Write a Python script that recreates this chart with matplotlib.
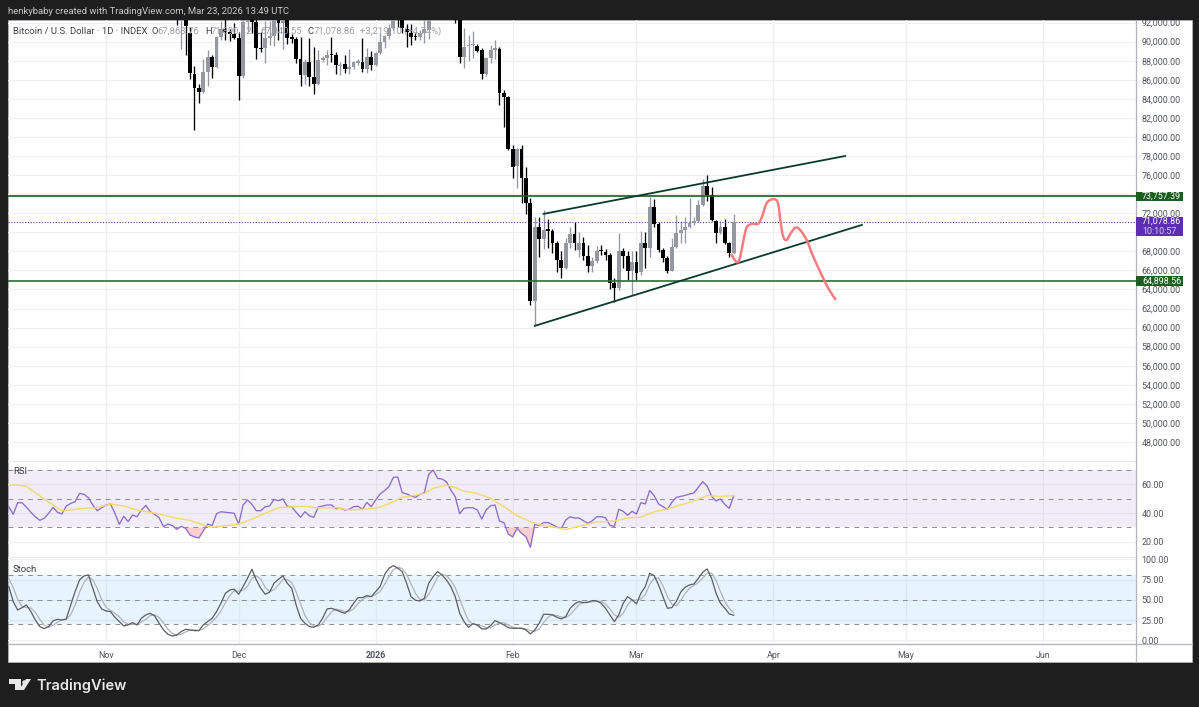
import numpy as np
import pandas as pd
import matplotlib
matplotlib.use("Agg")
import matplotlib.pyplot as plt
import matplotlib.dates as mdates
from matplotlib.patches import Rectangle, Polygon, PathPatch
from matplotlib.path import Path

plt.rcParams['font.family'] = ['Roboto', 'DejaVu Sans']

# daily candles in thousands of USD, Nov 17 2025 to Mar 23 2026
opens = [95.0, 92.3, 92.9, 90.9, 86.61, 85.14, 84.72, 86.82, 88.39, 87.34, 90.49, 91.3, 91.0, 90.8,
         90.4, 86.4, 92.1, 93.5, 92.1, 89.34, 89.3, 90.4, 90.6, 92.4, 92.0, 92.5, 90.4, 90.3, 88.18, 86.5,
         87.87, 86.29, 85.56, 88.1, 88.3, 88.7, 88.6, 87.4, 87.66, 87.13, 87.3, 87.8, 87.87, 87.13, 88.4,
         87.55, 88.81, 89.96, 90.59, 91.43, 93.8, 93.2, 91.33, 90.91, 90.5, 90.49, 90.91, 91.2, 95.0, 96.9,
         95.5, 95.1, 95.0, 93.7, 92.6, 88.39, 89.5, 89.6, 89.55, 89.1, 86.6, 88.29, 89.1, 89.23, 84.61, 84.19,
         78.74, 76.96, 78.74, 75.7, 73.08, 62.81, 70.57, 69.31, 70.35, 70.15, 68.89, 67.11, 66.27, 68.89,
         69.83, 68.16, 68.89, 67.53, 66.48, 67.0, 68.1, 67.95, 67.63, 64.69, 64.17, 68.05, 67.53, 65.95,
         66.9, 65.85, 68.89, 68.37, 72.65, 70.88, 68.16, 67.32, 65.95, 68.47, 69.94, 70.25, 70.57, 71.0,
         71.2, 72.85, 74.85, 73.92, 71.2, 69.94, 70.57, 68.89, 67.86]
highs = [96.0, 93.5, 93.1, 91.5, 87.4, 85.6, 88.18, 89.13, 88.6, 90.6, 92.2, 93.0, 91.3, 92.0,
         91.0, 92.4, 94.1, 94.0, 92.6, 91.0, 92.2, 92.2, 94.5, 94.4, 93.5, 92.9, 90.8, 90.5, 90.49, 88.2,
         90.38, 89.44, 89.1, 88.5, 89.1, 90.5, 88.9, 87.9, 88.6, 89.2, 88.0, 88.2, 90.38, 89.3, 89.0,
         88.95, 90.9, 90.7, 91.8, 94.7, 94.5, 93.7, 91.85, 91.85, 90.9, 91.2, 92.4, 95.5, 97.9, 97.2,
         95.8, 95.5, 95.5, 93.9, 93.3, 91.4, 90.7, 91.1, 89.8, 89.3, 88.4, 89.65, 90.2, 89.4, 84.9, 84.3,
         79.16, 78.85, 79.16, 76.85, 73.6, 71.62, 71.62, 72.34, 71.41, 70.3, 69.1, 68.0, 69.4, 70.57,
         71.09, 70.05, 69.5, 68.7, 67.4, 68.6, 68.7, 68.2, 67.8, 65.2, 69.94, 68.3, 68.0, 68.05,
         68.0, 70.1, 70.0, 73.7, 73.5, 71.1, 68.4, 67.5, 69.4, 71.83, 71.2, 71.6, 73.6, 71.6,
         73.4, 75.6, 76.0, 74.7, 71.3, 71.2, 71.4, 69.0, 71.9]
lows = [91.7, 89.2, 88.6, 86.1, 80.74, 83.57, 84.61, 85.35, 86.19, 87.2, 90.2, 90.2, 90.1, 90.3,
        83.88, 86.2, 91.0, 90.9, 88.18, 88.9, 87.76, 89.6, 89.5, 90.2, 89.2, 89.7, 89.9, 87.76, 85.3, 85.6,
        85.35, 84.51, 85.4, 87.9, 87.6, 87.87, 86.6, 86.5, 86.7, 86.6, 87.1, 87.6, 86.8, 86.7, 87.0,
        87.4, 88.7, 89.3, 90.3, 91.2, 91.5, 90.9, 89.44, 89.65, 90.2, 90.2, 89.9, 90.28, 94.2, 95.0,
        94.5, 94.9, 93.6, 92.0, 87.76, 87.2, 88.0, 88.3, 88.9, 86.1, 86.4, 87.76, 88.2, 83.36, 81.05, 78.6,
        75.7, 74.65, 73.08, 71.93, 62.39, 60.18, 67.42, 68.2, 68.37, 67.84, 65.85, 65.22, 66.1, 68.3,
        68.16, 67.42, 67.11, 65.85, 65.8, 66.8, 67.6, 67.1, 64.0, 62.7, 63.9, 66.2, 65.01, 63.44,
        65.0, 65.5, 66.27, 67.42, 70.6, 67.95, 66.9, 65.74, 65.9, 68.3, 68.9, 68.9, 70.4, 70.8,
        71.1, 72.8, 73.3, 71.2, 68.89, 69.8, 68.8, 67.4, 67.7]
closes = [92.3, 92.9, 91.6, 86.71, 85.14, 84.72, 86.82, 88.39, 87.34, 90.49, 91.3, 91.0, 90.8, 90.4,
          86.4, 92.1, 93.5, 92.1, 89.34, 89.2, 90.4, 90.6, 92.4, 92.0, 92.5, 90.4, 90.3, 88.18, 86.5, 87.87,
          86.29, 85.56, 88.1, 88.3, 88.6, 88.6, 87.55, 87.6, 87.13, 87.3, 87.87, 87.95, 87.13, 88.4, 87.55,
          88.81, 89.96, 90.59, 91.43, 93.8, 93.5, 91.43, 91.0, 90.49, 90.45, 90.91, 91.3, 95.0, 96.9, 95.5,
          95.1, 95.0, 93.7, 92.7, 88.39, 89.44, 89.6, 89.7, 89.02, 86.6, 88.29, 89.13, 89.3, 84.61, 84.19, 78.74,
          76.85, 78.74, 75.7, 73.08, 62.81, 70.57, 69.31, 70.25, 70.15, 68.89, 67.11, 66.27, 68.89, 69.83,
          68.89, 68.89, 67.53, 66.48, 67.0, 68.05, 68.0, 67.63, 64.69, 64.17, 68.05, 67.53, 65.95, 66.9,
          65.74, 68.89, 68.37, 72.65, 70.88, 68.16, 67.32, 65.95, 68.47, 69.94, 70.25, 70.57, 71.0, 71.2,
          72.85, 74.85, 73.92, 71.3, 69.94, 70.57, 68.89, 67.84, 71.08]

# RSI and its moving average, daily from Oct 10 2025
rsi = [44.4, 39.1, 47.2, 47.2, 44.0, 40.5, 37.4, 34.9, 36.3, 39.8, 44.0, 40.5, 39.3, 44.9, 46.7, 47.9, 53.7, 53.0, 50.7, 45.6,
       41.6, 43.7, 45.6, 46.3, 39.8, 32.1, 37.7, 34.0, 38.6, 37.4, 42.1, 45.3, 40.9, 39.1, 36.7, 30.5, 32.3, 31.2, 28.6, 30.7,
       29.3, 24.6, 23.3, 22.6, 27.4, 32.3, 31.2, 39.5, 40.9, 40.5, 40.2, 39.8, 32.1, 45.6, 49.1, 46.0, 41.6, 41.6, 44.4, 44.9,
       49.5, 48.6, 49.8, 44.7, 44.4, 40.5, 37.0, 40.9, 38.1, 37.0, 44.2, 44.9, 45.6, 45.6, 43.0, 43.3, 42.1, 42.6, 44.4, 44.7,
       42.6, 47.4, 44.4, 49.1, 53.3, 55.6, 58.4, 64.9, 65.1,
       54.2, 53.3, 51.9, 50.9, 53.0, 54.2, 67.0, 70.0, 64.2, 63.7, 61.9, 56.0, 51.4, 39.5, 43.3, 43.7, 43.7, 42.1, 35.8, 42.1,
       45.1, 45.6, 34.4, 33.3, 25.3, 23.3, 29.3, 25.8, 23.5, 16.0, 32.1, 31.2, 33.3, 33.3, 31.9, 30.2, 29.3, 35.1, 37.4, 36.5,
       36.5, 34.6, 32.8, 34.6, 37.4, 37.4, 36.7, 31.4, 30.7, 42.6, 41.2, 38.4, 41.2, 39.3, 47.2, 46.3, 55.8, 52.1, 46.3, 44.4,
       42.6, 47.4, 50.9, 51.6, 52.3, 53.3, 54.0, 57.9, 61.9, 58.8, 51.6, 48.4, 49.8, 46.0, 43.3, 51.9]
rsi_ma_days = [0, 2, 4, 6, 8, 10, 12, 14, 17, 20, 23, 26, 29, 32, 35, 38, 41, 44, 46, 48, 52, 55, 58, 61, 64, 67, 70, 74, 77, 81, 84, 87, 88,
               89, 91, 94, 96, 99, 101, 103, 106, 109, 112, 115, 118, 120, 124, 126, 129, 133, 137, 140, 143, 146, 149, 152, 155, 158, 161, 164]
rsi_ma = [59.5, 59.5, 58.6, 54.2, 49.8, 45.6, 41.6, 42.1, 43.3, 43.7, 46.3, 44.9, 42.1, 40.5, 38.6, 36.3, 34.9, 31.6, 30.0, 30.7, 32.3, 35.8, 39.8, 43.7, 44.4, 44.7, 43.5, 43.7, 42.1, 42.8, 44.0, 47.9, 49.5,
          50.9, 51.9, 53.7, 57.2, 59.5, 57.7, 55.3, 53.7, 50.2, 44.4, 38.1, 34.0, 31.9, 29.8, 28.4, 30.7, 33.7, 34.4, 36.5, 37.2, 40.9, 42.8, 45.6, 48.4, 52.1, 51.6, 52.1]

# stochastic %K and %D, same days as rsi
stoch_k = [66.3, 47.7, 37.4, 40.3, 43.6, 35.4, 25.1, 16.9, 14.4, 16.9, 23.9, 25.9, 25.1, 26.3, 43.6, 60.1, 74.5, 79.4, 80.7, 64.2,
           47.7, 38.7, 36.2, 35.4, 28.4, 23.0, 17.7, 18.9, 21.8, 18.9, 27.2, 31.3, 33.3, 30.0, 21.0, 12.8, 7.4, 5.3, 6.6, 10.7,
           13.6, 12.8, 11.9, 11.9, 18.9, 23.0, 27.2, 35.4, 45.7, 58.0, 62.1, 63.0, 56.8, 66.3, 76.5, 87.7, 74.5, 64.2, 56.8, 59.3,
           70.4, 75.3, 79.4, 70.4, 64.2, 43.6, 27.2, 21.0, 16.9, 16.0, 18.9, 27.2, 38.7, 39.5, 37.4, 35.4, 33.3, 37.4, 45.7, 52.7,
           52.7, 55.1, 53.9, 60.1, 66.3, 80.7, 88.9, 92.2, 88.9,
           84.8, 70.4, 53.9, 49.4, 48.6, 51.8, 70.4, 78.6, 84.8, 80.7, 74.5, 66.3, 53.9, 33.3, 23.0, 16.0, 20.6, 18.9, 14.0, 14.0,
           18.1, 24.3, 21.8, 18.9, 15.6, 14.8, 14.8, 14.8, 12.8, 7.8, 12.8, 21.0, 32.1, 32.1, 31.3, 28.4, 26.3, 29.2, 39.5, 44.9,
           47.7, 46.5, 46.9, 49.0, 48.6, 45.7, 39.5, 31.3, 23.0, 31.3, 45.7, 53.9, 49.8, 44.9, 58.0, 66.3, 82.7, 79.8, 68.3, 53.9,
           39.5, 40.3, 47.7, 59.3, 65.4, 68.3, 69.5, 76.5, 84.0, 88.1, 76.5, 58.0, 45.7, 39.5, 32.5, 30.9]
stoch_d = [76.0, 65.0, 50.5, 41.8, 40.4, 39.8, 34.7, 25.8, 18.8, 16.1, 18.4, 22.2, 25.0, 25.8, 31.7, 43.3, 59.4, 71.3, 78.2, 74.8,
           64.2, 50.2, 40.9, 36.8, 33.3, 28.9, 23.0, 19.9, 19.5, 19.9, 22.6, 25.8, 30.6, 31.5, 28.1, 21.3, 13.7, 8.5, 6.4, 7.5,
           10.3, 12.4, 12.8, 12.2, 14.2, 18.0, 23.0, 28.5, 36.1, 46.4, 55.3, 61.0, 60.6, 62.0, 66.5, 76.8, 79.6, 75.5, 65.2, 60.1,
           62.2, 68.3, 75.0, 75.0, 71.3, 59.4, 45.0, 30.6, 21.7, 18.0, 17.3, 20.7, 28.3, 35.1, 38.5, 37.4, 35.4, 35.4, 38.8, 45.3,
           50.4, 53.5, 53.9, 56.4, 60.1, 69.0, 78.6, 87.3, 90.0,
           88.6, 81.4, 69.7, 57.9, 50.6, 49.9, 56.9, 66.9, 77.9, 81.4, 80.0, 73.8, 64.9, 51.2, 36.7, 24.1, 19.9, 18.5, 17.8, 15.6,
           15.4, 18.8, 21.4, 21.7, 18.8, 16.4, 15.1, 14.8, 14.1, 11.8, 11.1, 13.9, 22.0, 28.4, 31.8, 30.6, 28.7, 28.0, 31.7, 37.9,
           44.0, 46.4, 47.0, 47.5, 48.2, 47.8, 44.6, 38.8, 31.3, 28.5, 33.3, 43.6, 49.8, 49.5, 50.9, 56.4, 69.0, 76.3, 76.9, 67.3,
           53.9, 44.6, 42.5, 49.1, 57.5, 64.3, 67.7, 71.4, 76.7, 82.9, 82.9, 74.2, 60.1, 47.7, 39.2, 34.3]

# drawings on the chart: days after the last candle, price in thousands
upper_days = [-43, 25.2]
upper_price = [71.93, 78.0]
lower_days = [-45, 29]
lower_price = [60.18, 70.77]
path_days = [-0.6, 0.7, 1.4, 2.1, 2.9, 4.1, 5.5, 6.4, 7.5, 9.0, 10.0, 10.6, 11.2, 12.0, 12.9, 14.0, 15.0, 16.5, 18.0, 19.9, 21.4, 23.1]
path_price = [67.73, 66.86, 67.31, 68.89, 70.46, 70.88, 70.88, 71.64, 73.08, 73.47, 73.08, 71.11, 69.54, 69.2, 69.9, 70.49, 70.25, 69.2, 67.44, 65.52, 64.13, 62.9]

resistance = 73.75739
support = 64.89856
last_price = 71.07886

price_ticks = list(range(92, 47, -2))
hidden_price_ticks = [74, 70]  # covered by the price tags in the original
rsi_ticks = [60, 40, 20]
stoch_ticks = [100, 75, 50, 25, 0]
month_dates = ['2025-11-01', '2025-12-01', '2026-01-01', '2026-02-01', '2026-03-01', '2026-04-01', '2026-05-01', '2026-06-01']
month_labels = ['Nov', 'Dec', '2026', 'Feb', 'Mar', 'Apr', 'May', 'Jun']

W, H = 1199, 707
DARK = '#1e1e1e'
GRID = '#f0f0f3'
TEXT = '#50535e'
UP = '#9598a1'
DOWN = '#000000'
TICK_SIZE = 6.4
HEAD_SIZE = 6.8


def box(l, t, r, b):
    return [l / W, 1 - b / H, (r - l) / W, (b - t) / H]


def label(x, y, s, **kw):
    kw.setdefault('va', 'center')
    kw.setdefault('ha', 'left')
    kw.setdefault('zorder', 8)
    return fig.text(x / W, 1 - y / H, s, **kw)


def smooth_path(xs, ys):
    # freehand drawing: round the corners with bezier segments through the points
    pts = np.column_stack([xs, ys])
    verts = [pts[0]]
    codes = [Path.MOVETO]
    for i in range(len(pts) - 1):
        before = pts[max(i - 1, 0)]
        after = pts[min(i + 2, len(pts) - 1)]
        verts += [pts[i] + (pts[i + 1] - before) / 6, pts[i + 1] - (after - pts[i]) / 6, pts[i + 1]]
        codes += [Path.CURVE4] * 3
    return Path(verts, codes)


fig = plt.figure(figsize=(W / 100, H / 100), dpi=100, facecolor=DARK)
# white panel behind the axes, dark bar above them so the top tick is cut like the original
fig.add_artist(Rectangle((8 / W, 1 - 662 / H), 1184 / W, 642 / H, transform=fig.transFigure, fc='white', ec='#b8b8b8', lw=0.5, zorder=-1))
fig.add_artist(Rectangle((0, 1 - 20 / H), 1, 20 / H, transform=fig.transFigure, fc=DARK, ec='none', zorder=4))

last_day = pd.Timestamp('2026-03-23')
rsi_dates = mdates.date2num(pd.date_range(end=last_day, periods=len(rsi)))
candle_dates = mdates.date2num(pd.date_range(end=last_day, periods=len(opens)))
last_num = mdates.date2num(last_day)
px_per_day = 4.42
xlim = (last_num + (8 - 733.7) / px_per_day, last_num + (1136 - 733.7) / px_per_day)
month_nums = mdates.date2num(pd.to_datetime(month_dates))

ax = fig.add_axes(box(8, 20, 1136, 461))
ax_rsi = fig.add_axes(box(8, 461, 1136, 557))
ax_st = fig.add_axes(box(8, 557, 1136, 644))

for a in (ax, ax_rsi, ax_st):
    a.set_xlim(xlim)
    a.patch.set_alpha(0)
    for side in ('top', 'left', 'bottom'):
        a.spines[side].set_visible(False)
    a.spines['right'].set_color('#b2b5be')
    a.spines['right'].set_linewidth(0.9)
    a.yaxis.tick_right()
    a.tick_params(axis='y', length=0, pad=4, labelsize=TICK_SIZE, labelcolor=TEXT)
    a.set_xticks(month_nums)
    a.tick_params(axis='x', length=0)
    a.grid(True, color=GRID, lw=0.9)
    a.set_axisbelow(True)
    a.set_xticklabels([])

# price pane
ax.set_ylim(46.0, 92.27)
ax.set_yticks(price_ticks)
ax.set_yticklabels(['' if p in hidden_price_ticks else f'{p * 1000:,.2f}' for p in price_ticks])
ax.spines['bottom'].set_visible(True)
ax.spines['bottom'].set_color('#e8e8ea')

colors = [UP if c >= o else DOWN for o, c in zip(opens, closes)]
ax.vlines(candle_dates, lows, highs, colors=colors, lw=0.95, zorder=2)
body_bottom = np.minimum(opens, closes)
body_height = np.maximum(np.abs(np.array(closes) - np.array(opens)), 0.15)
ax.bar(candle_dates, body_height, bottom=body_bottom, width=0.86, color=colors, lw=0, zorder=3)

ax.axhline(resistance, color='#1b5e20', lw=1.2, zorder=4)
ax.axhline(support, color='#2e6b34', lw=1.2, zorder=4)
ax.axhline(last_price, color='#5e35b1', lw=0.8, ls=(0, (1, 1.5)), zorder=2)
ax.plot(last_num + np.array(upper_days), upper_price, color='#0c3b2e', lw=1.3, zorder=5)
ax.plot(last_num + np.array(lower_days), lower_price, color='#0c3b2e', lw=1.3, zorder=5)
ax.add_patch(PathPatch(smooth_path(last_num + np.array(path_days), path_price), fc='none', ec='#f77c80', lw=1.8, zorder=6))

# RSI pane
ax_rsi.set_ylim(9.3, 76.3)
ax_rsi.set_yticks(rsi_ticks)
ax_rsi.set_yticklabels([f'{v:.2f}' for v in rsi_ticks])
ax_rsi.axhspan(30, 70, color='#7e57c2', alpha=0.1, lw=0)
for v in (70, 50, 30):
    ax_rsi.axhline(v, color='#8a8d96', lw=0.7, ls=(0, (5, 5)))
rsi_arr = np.array(rsi)
ax_rsi.fill_between(rsi_dates, rsi_arr, 30, where=rsi_arr < 30, interpolate=True, color='#f7a8a8', alpha=0.55, lw=0)
ax_rsi.plot(rsi_dates, rsi, color='#8d6ccb', lw=0.95)
ax_rsi.plot(rsi_dates[rsi_ma_days], rsi_ma, color='#f7d774', lw=1.0)
ax_rsi.spines['bottom'].set_visible(True)
ax_rsi.spines['bottom'].set_color('#e8e8ea')

# stochastic pane
ax_st.set_ylim(-4.6, 102.8)
ax_st.set_yticks(stoch_ticks)
ax_st.set_yticklabels([f'{v:.2f}' for v in stoch_ticks])
ax_st.axhspan(20, 80, color='#2196f3', alpha=0.1, lw=0)
for v in (80, 50, 20):
    ax_st.axhline(v, color='#8a8d96', lw=0.7, ls=(0, (5, 5)))
ax_st.plot(rsi_dates, stoch_d, color='#b0b3b8', lw=0.9)
ax_st.plot(rsi_dates, stoch_k, color='#5a5d66', lw=0.9)
ax_st.spines['bottom'].set_visible(True)
ax_st.spines['bottom'].set_color('#b2b5be')
ax_st.spines['bottom'].set_linewidth(0.9)
ax_st.set_xticklabels(month_labels, fontsize=TICK_SIZE, color=TEXT)
ax_st.tick_params(axis='x', pad=5)
ax_st.get_xticklabels()[2].set_fontweight('bold')
fig.add_artist(plt.Line2D([1136 / W, 1136 / W], [1 - 662 / H, 1 - 644 / H], color='#b2b5be', lw=0.9))
fig.add_artist(plt.Line2D([1136 / W, 1192 / W], [1 - 644 / H, 1 - 644 / H], color='#b2b5be', lw=0.9))

# price tags on the axis
for top, bottom, colour in ((192, 201, '#1b5e20'), (217, 236, '#5e2db5'), (276, 286, '#1b5e20')):
    fig.add_artist(Rectangle((1136 / W, 1 - bottom / H), 47 / W, (bottom - top) / H,
                             transform=fig.transFigure, fc=colour, ec='none', zorder=5))
label(1142, 196.5, '73,757.39', color='white', fontsize=TICK_SIZE)
label(1142, 221, '71,078.86', color='white', fontsize=TICK_SIZE)
label(1142, 231, '10:10:57', color='#d8cdf2', fontsize=TICK_SIZE)
label(1142, 281, '64,898.56', color='white', fontsize=TICK_SIZE)

# header and pane titles
label(8, 11.5, 'henkybaby created with TradingView.com, Mar 23, 2026 13:49 UTC', color='#c9c9c9', fontsize=HEAD_SIZE)
label(13, 31.5, 'Bitcoin / U.S. Dollar · 1D · INDEX', color='#3a3d46', fontsize=HEAD_SIZE)
for x, s in ((151, 'O'), (205, 'H'), (255, 'L'), (308, 'C')):
    label(x, 31.5, s, color='#3a3d46', fontsize=HEAD_SIZE)
for x, s in ((157.5, '67,863.76'), (211, '71,890.12'), (260, '67,840.55'), (314, '71,078.86'), (360, '+3,219.10 (+4.74%)')):
    label(x, 31.5, s, color='#9a9da6', fontsize=HEAD_SIZE)
label(13, 472, 'RSI', color='#3a3d46', fontsize=HEAD_SIZE)
label(13, 569, 'Stoch', color='#3a3d46', fontsize=HEAD_SIZE)

# TradingView logo in the footer
logo_t = [(9, 679), (21, 679), (21, 690), (15, 690), (15, 684), (9, 684)]
logo_s = [(26, 679), (31, 679), (24, 690), (19, 690)]
for shape in (logo_t, logo_s):
    fig.add_artist(Polygon([(x / W, 1 - y / H) for x, y in shape], closed=True, transform=fig.transFigure, fc='#e8e8e8', ec='none'))
fig.add_artist(plt.Line2D([24 / W], [1 - 681.5 / H], marker='o', ms=3.2, color='#e8e8e8', mew=0))
label(36, 685.5, 'TradingView', color='#e8e8e8', fontsize=10.5, family='Inter', fontweight='semibold')

fig.savefig('out.png', dpi=100, facecolor=DARK)
